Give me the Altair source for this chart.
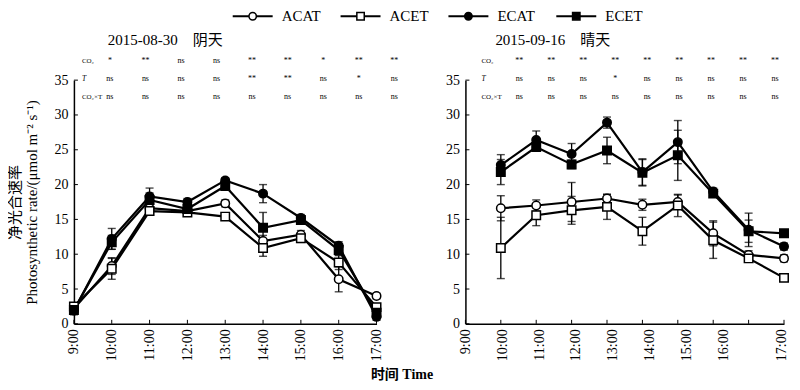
import altair as alt
import pandas as pd

FONT = "Liberation Serif, Noto Sans CJK SC"

SERIES = ["ACAT", "ACET", "ECAT", "ECET"]
SHAPES = ["circle", "square", "circle", "square"]
FILLS = ["white", "white", "black", "black"]
TIME_LABELS = ["9:00", "10:00", "11:00", "12:00", "13:00", "14:00", "15:00", "16:00", "17:00"]
SIG_ROW_NAMES = ["CO₂", "T", "CO₂×T"]

# ---- left panel: 2015-08-30 阴天 (category index 0..8 = 9:00..17:00)
L_TITLE = "2015-08-30\u2003阴天"
L_POS = [0, 1, 2, 3, 4, 5, 6, 7, 8]
L_ACAT = [2.2, 8.3, 16.6, 16.2, 17.3, 11.9, 12.8, 6.4, 4.0]
L_ACET = [2.5, 7.9, 16.2, 16.0, 15.4, 10.9, 12.3, 8.8, 2.4]
L_ECAT = [1.9, 12.2, 18.3, 17.5, 20.6, 18.7, 15.2, 11.2, 1.0]
L_ECET = [2.0, 11.7, 17.8, 16.5, 19.8, 13.8, 14.9, 10.6, 1.6]
L_ACAT_SE = [0.5, 1.2, 0.6, 0.5, 0.5, 0.8, 0.6, 1.8, 0.4]
L_ACET_SE = [0.5, 1.5, 0.6, 0.5, 0.4, 1.2, 0.6, 1.0, 0.5]
L_ECAT_SE = [0.6, 1.5, 1.2, 0.5, 0.4, 1.3, 0.5, 0.6, 0.5]
L_ECET_SE = [0.5, 1.0, 1.0, 0.6, 0.5, 2.2, 0.6, 0.7, 0.6]
L_SIG_CO2 = ["*", "**", "ns", "ns", "**", "**", "*", "**", "**"]
L_SIG_T = ["ns", "ns", "ns", "ns", "**", "**", "ns", "*", "ns"]
L_SIG_INT = ["ns", "ns", "ns", "ns", "ns", "ns", "ns", "ns", "ns"]

# ---- right panel: 2015-09-16 晴天 (position index 0..9)
R_TITLE = "2015-09-16\u2003晴天"
R_POS = [1, 2, 3, 4, 5, 6, 7, 8, 9]
R_ACAT = [16.6, 17.0, 17.5, 18.0, 17.1, 17.5, 13.0, 9.9, 9.4]
R_ACET = [10.9, 15.6, 16.3, 16.8, 13.3, 17.0, 12.0, 9.4, 6.6]
R_ECAT = [22.8, 26.4, 24.4, 28.9, 21.8, 26.1, 19.0, 13.5, 11.1]
R_ECET = [21.8, 25.4, 22.9, 24.9, 21.7, 24.2, 18.7, 13.3, 13.0]
R_ACAT_SE = [1.8, 0.8, 2.8, 0.6, 0.8, 1.0, 1.8, 0.6, 0.5]
R_ACET_SE = [4.4, 1.5, 2.0, 1.8, 2.0, 1.6, 2.6, 0.5, 0.5]
R_ECAT_SE = [1.5, 1.3, 1.5, 0.8, 1.9, 3.1, 0.5, 2.4, 0.5]
R_ECET_SE = [1.8, 0.6, 0.6, 1.9, 1.9, 3.6, 0.5, 1.6, 0.5]
R_SIG_CO2 = ["**", "**", "**", "**", "**", "**", "**", "**", "**"]
R_SIG_T = ["ns", "ns", "ns", "*", "ns", "ns", "ns", "ns", "ns"]
R_SIG_INT = ["ns", "ns", "ns", "ns", "ns", "ns", "ns", "ns", "ns"]

Y_TICKS = [0, 5, 10, 15, 20, 25, 30, 35]

# ---- layout (pixels)
H = 244
LW, L_XMAX = 303, 8
RW, R_XMAX = 319, 9
PX_PER_Y = H / 35.0


def px_to_y(px_above_top):
    return 35 + px_above_top / PX_PER_Y


def build_df(pos, vals, errs):
    rows = []
    for s, vs, es in zip(SERIES, vals, errs):
        for p, v, e in zip(pos, vs, es):
            rows.append(dict(series=s, pos=p, value=v, lo=v - e, hi=v + e))
    return pd.DataFrame(rows)


def sig_df(rows_sig, col_start_px, col_step_px, px_per_x):
    recs = []
    ys = [px_to_y(19), px_to_y(1), px_to_y(-17)]
    for r, (vals, yv) in enumerate(zip(rows_sig, ys)):
        for i, t in enumerate(vals):
            recs.append(dict(sx=(col_start_px + i * col_step_px) / px_per_x, sy=yv, txt=t))
    return pd.DataFrame(recs), ys


shape_enc = alt.Shape("series:N", scale=alt.Scale(domain=SERIES, range=SHAPES), legend=None)
fill_enc = alt.Fill("series:N", scale=alt.Scale(domain=SERIES, range=FILLS), legend=None)


def panel(pos, vals, errs, sigs, title, width, xmax, xaxis, yaxis, lab_px, col_start_px, col_step_px, title_px):
    px_per_x = width / xmax
    df = build_df(pos, vals, errs)
    caps = pd.concat([
        df[["series", "pos", "lo"]].rename(columns={"lo": "cap"}),
        df[["series", "pos", "hi"]].rename(columns={"hi": "cap"}),
    ])
    xs = alt.Scale(domain=[0, xmax], nice=False, zero=False)
    ys = alt.Scale(domain=[0, 35], nice=False)

    def X(f):
        return alt.X(f, scale=xs, axis=xaxis)

    def Y(f):
        return alt.Y(f, scale=ys, axis=yaxis)

    ytick = alt.Chart(pd.DataFrame({"v": Y_TICKS})).mark_rule(color="black", strokeWidth=1).encode(
        y=Y("v:Q"), x=alt.value(0), x2=alt.value(4))
    xtick = alt.Chart(pd.DataFrame({"v": list(range(xmax + 1))})).mark_rule(color="black", strokeWidth=1).encode(
        x=X("v:Q"), y=alt.value(H), y2=alt.value(H - 4))
    lines = alt.Chart(df).mark_line(color="black", strokeWidth=2.2).encode(
        x=X("pos:Q"), y=Y("value:Q"), detail="series:N", order="pos:Q")
    erule = alt.Chart(df).mark_rule(color="black", strokeWidth=1.3).encode(
        x=X("pos:Q"), y=Y("lo:Q"), y2="hi:Q")
    ecap = alt.Chart(caps).mark_tick(color="black", orient="horizontal", size=8, thickness=1.4).encode(
        x=X("pos:Q"), y=Y("cap:Q"))
    pts = alt.Chart(df).mark_point(filled=True, stroke="black", strokeWidth=1.5, size=72, opacity=1).encode(
        x=X("pos:Q"), y=Y("value:Q"), shape=shape_enc, fill=fill_enc)

    sdf, rows_y = sig_df(sigs, col_start_px, col_step_px, px_per_x)
    stext = alt.Chart(sdf).mark_text(font=FONT, fontSize=8, align="center", baseline="middle", color="black").encode(
        x=X("sx:Q"), y=Y("sy:Q"), text="txt:N")
    lab_df = pd.DataFrame({"lx": [lab_px / px_per_x] * 3, "ly": rows_y, "txt": SIG_ROW_NAMES,
                           "it": [False, True, False]})
    labs = alt.Chart(lab_df).transform_filter("!datum.it").mark_text(
        font=FONT, fontSize=7, align="left", baseline="middle", color="black").encode(
        x=X("lx:Q"), y=Y("ly:Q"), text="txt:N")
    labs_it = alt.Chart(lab_df).transform_filter("datum.it").mark_text(
        font=FONT, fontSize=7.5, fontStyle="italic", align="left", baseline="middle", color="black").encode(
        x=X("lx:Q"), y=Y("ly:Q"), text="txt:N")
    tdf = pd.DataFrame({"tx": [title_px / px_per_x], "ty": [px_to_y(40)], "txt": [title]})
    ttl = alt.Chart(tdf).mark_text(font=FONT, fontSize=15, align="left", baseline="middle", color="black").encode(
        x=X("tx:Q"), y=Y("ty:Q"), text="txt:N")

    return alt.layer(ytick, xtick, lines, erule, ecap, pts, stext, labs, labs_it, ttl).properties(
        width=width, height=H)


def y_axis(title):
    kw = dict(values=Y_TICKS, ticks=False, grid=False, domainWidth=1.5, labelFontSize=14,
              labelPadding=6, labelFlush=False, labelOverlap=False)
    if title is None:
        return alt.Axis(title=None, **kw)
    return alt.Axis(title=title, titleFontSize=15, titleLineHeight=17, titlePadding=14,
                    titleFontWeight="normal", **kw)


left_label_expr = "[" + ",".join("'%s'" % t for t in TIME_LABELS) + "][round(datum.value)]"
left_xaxis = alt.Axis(values=L_POS, labelExpr=left_label_expr, labelAngle=270, ticks=False,
                      labelFontSize=14, labelPadding=5, labelFlush=False, labelOverlap=False,
                      domainWidth=1.5, grid=False, title="时间 Time", titleX=328, titleY=51,
                      titleAlign="center", titleBaseline="middle", titleAngle=0,
                      titleFontSize=14, titleFontWeight="bold")
R_LABEL_STEP = 1.04
right_label_vals = [round(i * R_LABEL_STEP, 2) for i in range(8)] + [8.92]
right_label_expr = ("datum.value > 8.5 ? '17:00' : (round(datum.value / %s) + 9) + ':00'" % R_LABEL_STEP)
right_xaxis = alt.Axis(values=right_label_vals, labelExpr=right_label_expr, labelAngle=270, ticks=False,
                       labelFontSize=14, labelPadding=5, labelFlush=False, labelOverlap=False,
                       domainWidth=1.5, grid=False, title=None)

left = panel(L_POS, [L_ACAT, L_ACET, L_ECAT, L_ECET], [L_ACAT_SE, L_ACET_SE, L_ECAT_SE, L_ECET_SE],
             [L_SIG_CO2, L_SIG_T, L_SIG_INT], L_TITLE, LW, L_XMAX, left_xaxis,
             y_axis(["净光合速率", "Photosynthetic rate/(μmol m⁻² s⁻¹)"]),
             lab_px=8, col_start_px=36, col_step_px=35.6, title_px=34)
right = panel(R_POS, [R_ACAT, R_ACET, R_ECAT, R_ECET], [R_ACAT_SE, R_ACET_SE, R_ECAT_SE, R_ECET_SE],
              [R_SIG_CO2, R_SIG_T, R_SIG_INT], R_TITLE, RW, R_XMAX, right_xaxis, y_axis(None),
              lab_px=16, col_start_px=54, col_step_px=32, title_px=30)

# ---- manual legend (line + marker + name)
LEG_W = 700
LEG_STEP_PX = 108
LEG_FIRST_PX = 179
leg_scale = alt.Scale(domain=[-LEG_FIRST_PX / LEG_STEP_PX, (LEG_W - LEG_FIRST_PX) / LEG_STEP_PX],
                      nice=False, zero=False)
leg_base = alt.Chart(pd.DataFrame({"series": SERIES, "idx": list(range(len(SERIES)))})).transform_calculate(
    x1="datum.idx - %f" % (20 / LEG_STEP_PX), x2="datum.idx + %f" % (20 / LEG_STEP_PX),
    tx="datum.idx + %f" % (29 / LEG_STEP_PX))
leg_line = leg_base.mark_rule(color="black", strokeWidth=2).encode(
    x=alt.X("x1:Q", scale=leg_scale, axis=None), x2="x2:Q", y=alt.value(8))
leg_pts = leg_base.mark_point(filled=True, stroke="black", strokeWidth=1.5, size=55, opacity=1).encode(
    x=alt.X("idx:Q", scale=leg_scale, axis=None), y=alt.value(8), shape=shape_enc, fill=fill_enc)
leg_txt = leg_base.mark_text(font=FONT, fontSize=15, align="left", baseline="middle", color="black").encode(
    x=alt.X("tx:Q", scale=leg_scale, axis=None), y=alt.value(8), text="series:N")
legend = alt.layer(leg_line, leg_pts, leg_txt).properties(width=LEG_W, height=14)

chart = alt.vconcat(
    legend,
    alt.hconcat(left, right, spacing=89, bounds="flush"),
    spacing=58, bounds="flush",
).properties(padding=0).configure_view(stroke=None).configure_axis(
    labelFont=FONT, titleFont=FONT, labelColor="black", titleColor="black", domainColor="black", grid=False)

chart.save("out.html", embed_options={"renderer": "svg", "actions": False})
